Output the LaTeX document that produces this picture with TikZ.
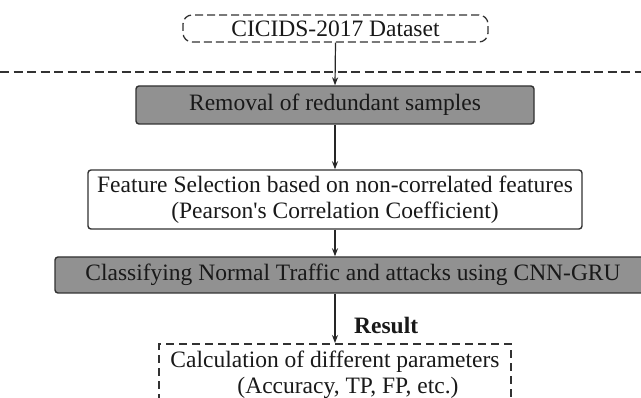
\documentclass[tikz,border=0pt]{standalone}
\usepackage{fontspec}
\setmainfont{Liberation Serif}
\newfontfamily\rawserif{Liberation Serif}
\usetikzlibrary{arrows.meta}
\definecolor{boxgray}{RGB}{145,145,145}
\definecolor{edge}{RGB}{50,50,50}
\tikzset{
  txt/.style={font=\fontsize{23.5}{26}\selectfont, text=black!90, inner sep=0pt},
  solidbox/.style={txt, draw=edge, line width=1.4pt, rounded corners=3pt},
  graybox/.style={solidbox, fill=boxgray},
  dashbox/.style={txt, draw=edge, line width=1.3pt, dash pattern=on 8pt off 4pt, rounded corners=9pt},
  arr/.style={draw=black!85, line width=1.2pt, -{Stealth[length=8pt,width=6pt]}},
}
\begin{document}
\begin{tikzpicture}[x=1pt,y=-1pt]
\useasboundingbox (0,0) rectangle (641,398);
\clip (0,0) rectangle (641,398);
\fill[white] (0,0) rectangle (641,398);

\node[dashbox, minimum width=305pt, minimum height=27pt] (data) at (335.5,28.5) {CICIDS-2017 Dataset};

\coordinate (dl) at (0,72);
\coordinate (dr) at (641,72);
\draw[draw=edge, line width=1.2pt, dash pattern=on 9pt off 4.5pt] (dl) -- (dr);

\node[graybox, minimum width=398pt, minimum height=38pt] (rem) at (335,105) {Removal of redundant samples};

\node[solidbox, minimum width=494pt, minimum height=59pt, align=center] (feat) at (335,199.5)
  {Feature Selection based on non-correlated features\\(Pearson{\rawserif'}s Correlation Coefficient)};

\node[graybox, minimum width=596pt, minimum height=36pt] (cls) at (353,275)
  {Classifying Normal Traffic and attacks using CNN-GRU};

\node[txt, draw=edge, line width=2pt, dash pattern=on 8pt off 5pt, anchor=north,
      minimum width=352pt, inner ysep=7pt, align=left, text depth=60pt] (calc) at (335,343)
  {Calculation of different parameters\\\hspace*{67pt}(Accuracy, TP, FP, etc.)};

\node[txt, anchor=west, font=\fontsize{23.5}{26}\selectfont\bfseries] (res) at (354,325) {Result};

\draw[arr] (data.south) -- (rem.north);
\draw[arr] (rem.south) -- (feat.north);
\draw[arr] (feat.south) -- (feat.south |- cls.north);
\draw[arr] (cls.south -| calc.north) -- (calc.north);
\end{tikzpicture}
\end{document}
